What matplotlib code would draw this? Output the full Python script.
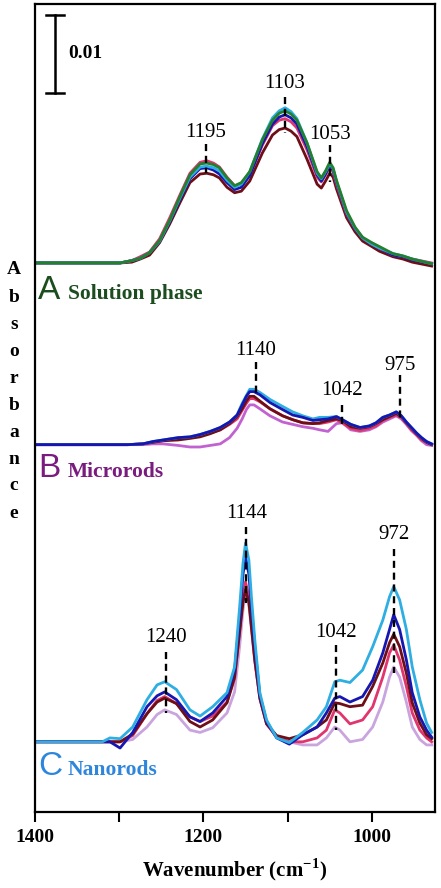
import numpy as np
import matplotlib
matplotlib.use("Agg")
import matplotlib.pyplot as plt

plt.rcParams["mathtext.fontset"] = "custom"
plt.rcParams["mathtext.rm"] = "Liberation Serif:bold"
plt.rcParams["mathtext.bf"] = "Liberation Serif:bold"

# absorbance values in milli-absorbance units (10 mA = 0.01)
wn_a = [1400, 1299, 1285, 1275, 1264, 1252, 1240, 1228, 1216, 1204, 1196, 1188, 1181, 1172, 1163,
        1155, 1145, 1130, 1118, 1110, 1103, 1096, 1089, 1077, 1065, 1060, 1055, 1050, 1046, 1042,
        1030, 1020, 1011, 1000, 991, 975, 963, 952, 929]
a_maroon = [0, 0, 0.1, 0.5, 1.0, 2.6, 5.0, 7.7, 10.3, 11.4, 11.5, 11.3, 10.9, 9.7, 9.0, 9.2, 10.5, 14.1,
            16.4, 17.1, 17.3, 16.9, 16.2, 13.3, 10.1, 9.6, 10.5, 11.5, 11.0, 9.5, 5.8, 4.0, 2.8, 2.1,
            1.5, 0.8, 0.5, 0.1, -0.4]
a_crimson = [0, 0, 0.3, 0.8, 1.4, 3.1, 5.8, 8.7, 11.5, 12.9, 13.1, 12.8, 12.3, 11.0, 9.9, 10.1, 11.3,
             15.1, 17.6, 18.3, 18.5, 18.1, 17.3, 14.5, 11.0, 10.4, 11.3, 12.3, 11.7, 10.1, 6.3, 4.4,
             3.2, 2.4, 1.9, 1.0, 0.8, 0.5, 0.0]
a_blue = [0, 0, 0.3, 0.6, 1.3, 2.8, 5.3, 8.1, 10.8, 12.1, 12.2, 11.9, 11.4, 10.3, 9.4, 9.7, 11.2, 15.3,
          17.8, 18.7, 19.0, 18.6, 17.8, 14.9, 11.3, 10.5, 11.4, 12.6, 11.9, 10.3, 6.4, 4.4, 3.2, 2.4,
          1.9, 1.0, 0.8, 0.4, -0.1]
a_cyan = [0, 0, 0.3, 0.6, 1.3, 2.8, 5.4, 8.3, 11.0, 12.3, 12.4, 12.2, 11.8, 10.6, 9.7, 10.1, 11.7, 15.9,
          18.6, 19.5, 19.9, 19.4, 18.5, 15.4, 11.5, 10.8, 11.7, 12.7, 12.1, 10.5, 6.5, 4.5, 3.2, 2.4,
          1.9, 1.2, 0.9, 0.5, -0.1]
a_green = [0, 0, 0.3, 0.6, 1.3, 2.9, 5.5, 8.5, 11.3, 12.7, 12.8, 12.6, 12.2, 10.9, 9.9, 10.3, 11.7, 15.8,
           18.3, 19.2, 19.5, 19.1, 18.3, 15.4, 11.7, 10.9, 11.8, 12.9, 12.2, 10.6, 6.7, 4.6, 3.3, 2.6,
           2.1, 1.2, 0.9, 0.5, -0.1]

wn_b = [1400, 1290, 1272, 1260, 1248, 1230, 1216, 1204, 1192, 1180, 1169, 1160, 1154, 1149, 1145,
        1140, 1133, 1121, 1106, 1094, 1082, 1070, 1062, 1052, 1042, 1035, 1025, 1014, 1003, 995,
        987, 979, 971, 965, 959, 953, 947, 941, 935, 929]
b_violet = [0, 0, 0, 0.1, 0.1, -0.1, -0.3, -0.3, -0.1, 0.1, 0.9, 2.1, 3.3, 4.5, 5.1, 5.1, 4.6, 3.7, 2.9,
            2.6, 2.3, 2.1, 1.9, 1.7, 2.7, 2.8, 1.9, 1.7, 1.9, 2.3, 2.9, 3.3, 3.7, 3.3, 2.6, 1.8, 1.2,
            0.5, 0, -0.1]
b_crimson = [0, 0, 0.1, 0.3, 0.5, 0.8, 0.9, 1.2, 1.5, 1.9, 2.6, 3.3, 4.4, 5.3, 5.9, 5.9, 5.5, 4.6, 3.7,
             3.2, 2.8, 2.7, 2.7, 2.9, 3.2, 2.8, 2.1, 1.8, 2.1, 2.4, 3.1, 3.5, 3.8, 3.5, 2.7, 1.9, 1.3,
             0.6, 0.3, 0]
b_maroon = [0, 0, 0.1, 0.3, 0.5, 0.6, 0.8, 1.0, 1.4, 1.9, 2.7, 3.6, 4.6, 5.6, 6.2, 6.2, 5.6, 4.6, 3.7,
            3.2, 2.8, 2.7, 2.8, 3.1, 3.3, 3.1, 2.3, 2.1, 2.3, 2.7, 3.2, 3.6, 4.0, 3.6, 2.8, 2.1, 1.4,
            0.8, 0.3, 0]
b_cyan = [0, 0, 0.1, 0.4, 0.6, 0.9, 1.0, 1.3, 1.7, 2.2, 2.9, 3.8, 5.3, 6.3, 7.1, 7.1, 6.7, 5.8, 4.9,
          4.2, 3.7, 3.3, 3.5, 3.5, 3.6, 3.2, 2.6, 2.2, 2.4, 2.8, 3.5, 3.8, 4.2, 3.7, 2.9, 2.2, 1.5,
          0.9, 0.4, 0.1]
b_blue = [0, 0, 0.1, 0.4, 0.6, 0.9, 1.0, 1.3, 1.7, 2.2, 2.9, 3.8, 5.1, 6.2, 6.8, 6.8, 6.4, 5.4, 4.5,
          3.8, 3.5, 3.1, 3.2, 3.3, 3.6, 3.2, 2.6, 2.2, 2.4, 2.8, 3.5, 3.8, 4.2, 3.7, 2.9, 2.2, 1.5,
          0.9, 0.4, 0.1]

wn_c = [1400, 1320, 1311, 1299, 1284, 1267, 1255, 1246, 1232, 1216, 1204, 1189,
        1172, 1163, 1157, 1153, 1150, 1146, 1143, 1139, 1133, 1125,
        1113, 1098, 1082, 1065, 1054,
        1044, 1038, 1026, 1011, 999, 987, 979, 974, 967, 959, 952, 943, 935, 929]
c_purple = [0, 0, 0, 0, 0.3, 1.9, 3.5, 4.1, 3.5, 1.5, 1.2, 1.8,
            3.7, 6.4, 12.2, 16.9, 19.1, 17.4, 14.4, 10.3, 5.5, 2.3,
            0.6, 0, -0.4, -0.4, 0.5,
            1.9, 1.5, 0, 0.3, 1.9, 5.1, 8.3, 9.6, 8.3, 5.1, 1.9, 0.3, -0.4, -0.4]
c_crimson = [0, 0, 0, 0, 0.8, 3.6, 5.3, 5.8, 4.9, 3.2, 2.6, 3.3,
             5.1, 8.1, 14.1, 18.6, 20.5, 18.6, 15.0, 10.5, 5.6, 2.3,
             0.6, 0, 0, 0.5, 1.5,
             4.1, 3.7, 2.3, 2.8, 4.5, 8.3, 11.4, 12.4, 10.5, 7.1, 3.7, 1.5, 0.5, 0]
c_maroon = [0, 0, 0, 0, 1.0, 3.6, 5.1, 5.6, 4.9, 2.6, 1.9, 2.8,
            5.0, 8.3, 14.1, 17.9, 19.5, 17.9, 14.7, 10.5, 5.6, 2.3,
            0.8, 0.4, 0.9, 1.9, 2.8,
            5.0, 4.9, 4.5, 4.7, 7.1, 10.1, 12.7, 13.8, 12.2, 8.8, 5.0, 2.4, 0.9, 0.4]
c_blue = [0, 0, 0, -0.8, 1.2, 4.5, 5.9, 6.4, 5.4, 3.2, 2.6, 3.7,
          5.8, 9.2, 16.0, 21.5, 23.7, 21.5, 17.3, 12.2, 6.0, 2.6,
          0.5, -0.3, 0.9, 1.9, 3.7,
          5.6, 5.8, 5.1, 5.8, 7.9, 11.4, 14.4, 16.3, 14.4, 10.5, 6.3, 3.2, 1.5, 0.6]
c_cyan = [0, 0, 0.5, 0.4, 1.9, 5.4, 7.3, 7.7, 6.7, 4.1, 3.3, 4.5,
          6.3, 9.6, 17.3, 22.9, 25.5, 23.3, 18.6, 13.1, 6.3, 2.8,
          0.5, -0.1, 1.2, 2.8, 4.5,
          7.7, 7.9, 7.6, 9.2, 12.2, 15.6, 18.6, 19.9, 18.2, 14.4, 9.6, 5.4, 2.4, 1.2]

offset_a, offset_b, offset_c = 70.4, 47.1, 9.0

# peak labels: text, dash position, text baseline, dash top/bottom
peak_labels = ["1195", "1103", "1053", "1140", "1042", "975", "1240", "1144", "1042", "972"]
peak_wn = [1197, 1103, 1050, 1138, 1036, 967, 1245, 1149, 1042, 974]
label_y = [86.5, 92.8, 86.3, 58.6, 53.5, 56.7, 21.8, 37.7, 22.4, 35.0]
dash_top = [85.6, 91.7, 85.5, 57.7, 52.2, 56.0, 20.5, 36.5, 21.4, 33.7]
dash_bot = [81.9, 87.1, 80.8, 53.2, 49.4, 50.3, 12.7, 26.8, 10.5, 17.8]

GREEN = "#22802e"
CYAN = "#2eaee2"
BLUE = "#1616b0"
CRIMSON = "#e0356e"
MAROON = "#6e0e16"
VIOLET = "#c262d0"
LILAC = "#c9a4de"

serif = "Liberation Serif"

fig = plt.figure(figsize=(4.41, 8.88), dpi=100)
ax = fig.add_axes([35 / 441, 1 - 812 / 888, 400 / 441, 808 / 888])

lw = 2.0
for ys, c in [(a_maroon, MAROON), (a_crimson, CRIMSON), (a_blue, BLUE), (a_cyan, CYAN), (a_green, GREEN)]:
    ax.plot(wn_a, np.array(ys) + offset_a, color=c, lw=lw, solid_joinstyle="round")
for ys, c in [(b_violet, VIOLET), (b_crimson, CRIMSON), (b_maroon, MAROON), (b_cyan, CYAN), (b_blue, BLUE)]:
    ax.plot(wn_b, np.array(ys) + offset_b, color=c, lw=lw, solid_joinstyle="round")
for ys, c in [(c_purple, LILAC), (c_crimson, CRIMSON), (c_maroon, MAROON), (c_blue, BLUE), (c_cyan, CYAN)]:
    ax.plot(wn_c, np.array(ys) + offset_c, color=c, lw=lw, solid_joinstyle="round")

for lab, x, ty, y0, y1 in zip(peak_labels, peak_wn, label_y, dash_top, dash_bot):
    ax.plot([x, x], [y0, y1], color="black", lw=1.7, ls=(0, (3, 2)))
    ax.text(x, ty, lab, ha="center", va="baseline", fontsize=15, family=serif)

# scale bar 0.01 = 10 mA
ax.plot([1376, 1376], [92.2, 102.2], color="black", lw=1.8)
ax.plot([1387, 1365], [92.2, 92.2], color="black", lw=1.8)
ax.plot([1387, 1365], [102.2, 102.2], color="black", lw=1.8)
ax.text(1361, 97.2, "0.01", ha="left", va="center", fontsize=14, fontweight="bold", family=serif)

ax.set_xlim(1400, 925)
ax.set_ylim(0, 103.6)
ax.set_xticks([1400, 1200, 1000])
ax.set_xticks([1300, 1100], minor=True)
ax.set_yticks([])
ax.tick_params(axis="x", which="both", direction="out", length=7, width=1.5, pad=5)
for t in ax.get_xticklabels():
    t.set_fontfamily(serif)
    t.set_fontweight("bold")
    t.set_fontsize(14)
for s in ax.spines.values():
    s.set_linewidth(1.6)

ax.set_xlabel("Wavenumber (cm$^{-1}$)", fontsize=15, fontweight="bold", family=serif, labelpad=8)


def fx(px):
    return px / 441


def fy(py):
    return 1 - py / 888


# stacked y label
for i, ch in enumerate("Absorbance"):
    fig.text(fx(14), fy(270 + 27 * i), ch, ha="center", va="center", fontsize=14,
             fontweight="bold", family=serif)

# panel labels
panels = [("A", "Solution phase", "#1b4d1e", 299), ("B", "Microrods", "#7a1b7e", 477),
          ("C", "Nanorods", "#2e86dc", 775)]
for letter, name, col, base in panels:
    fig.text(fx(38), fy(base), letter, ha="left", va="baseline", fontsize=24,
             family="Liberation Sans", color=col)
    fig.text(fx(68), fy(base), name, ha="left", va="baseline", fontsize=15.5,
             fontweight="bold", family=serif, color=col)

fig.savefig("out.png", dpi=100)
